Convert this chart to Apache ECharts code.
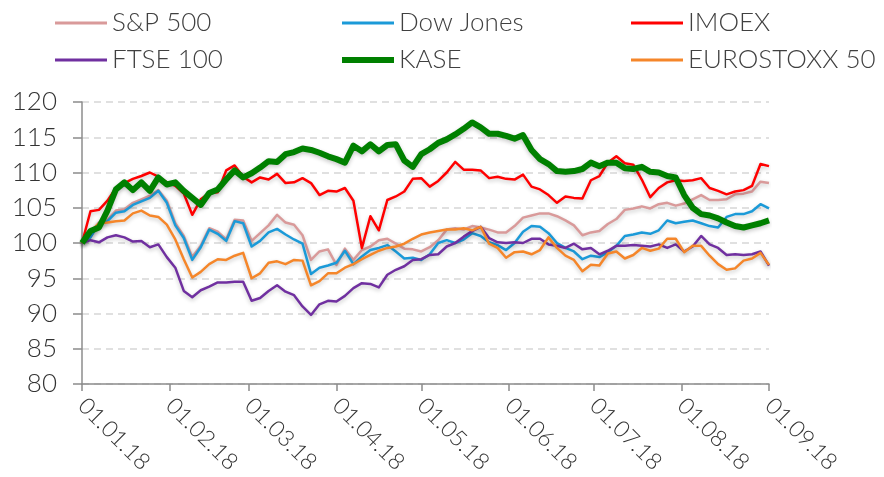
<!DOCTYPE html>
<html>
<head>
<meta charset="utf-8">
<script src="https://cdn.jsdelivr.net/npm/echarts@6/dist/echarts.min.js"></script>
<style>html,body{margin:0;padding:0;background:#fff;}#c{width:884px;height:477px;}</style>
</head>
<body>
<div id="c"></div>
<script>
var dates = [
'2018-01-01','2018-01-04','2018-01-07','2018-01-10','2018-01-13','2018-01-16','2018-01-19','2018-01-22','2018-01-25','2018-01-28','2018-01-31',
'2018-02-03','2018-02-06','2018-02-09','2018-02-12','2018-02-15','2018-02-18','2018-02-21','2018-02-24','2018-02-27',
'2018-03-02','2018-03-05','2018-03-08','2018-03-11','2018-03-14','2018-03-17','2018-03-20','2018-03-23','2018-03-26','2018-03-29',
'2018-04-01','2018-04-04','2018-04-07','2018-04-10','2018-04-13','2018-04-16','2018-04-19','2018-04-22','2018-04-25','2018-04-28',
'2018-05-01','2018-05-04','2018-05-07','2018-05-10','2018-05-13','2018-05-16','2018-05-19','2018-05-22','2018-05-25','2018-05-28','2018-05-31',
'2018-06-03','2018-06-06','2018-06-09','2018-06-12','2018-06-15','2018-06-18','2018-06-21','2018-06-24','2018-06-27','2018-06-30',
'2018-07-03','2018-07-06','2018-07-09','2018-07-12','2018-07-15','2018-07-18','2018-07-21','2018-07-24','2018-07-27','2018-07-30',
'2018-08-02','2018-08-05','2018-08-08','2018-08-11','2018-08-14','2018-08-17','2018-08-20','2018-08-23','2018-08-26','2018-08-29',
'2018-09-01'
];

var sp500 = [100,100.9,102.9,103.3,104.6,104.8,105.7,106.2,106.7,107.5,106.0,
102.8,101.0,98.0,99.6,102.1,101.6,100.5,103.3,103.2,
100.3,101.4,102.5,104.0,102.9,102.6,101.1,97.6,98.8,99.1,
96.9,99.2,97.6,99.0,99.5,100.4,100.6,99.9,99.2,99.1,
98.8,99.4,100.4,101.9,102.1,101.9,102.4,102.2,101.9,101.5,101.5,
102.4,103.6,103.9,104.2,104.2,103.8,103.2,102.5,101.1,101.5,
101.7,102.7,103.4,104.7,104.9,105.2,104.9,105.5,105.7,105.3,
105.6,106.2,106.8,106.1,106.1,106.2,106.9,107.0,107.3,108.7,
108.5];

var dowJones = [100,100.8,102.8,103.1,104.3,104.5,105.4,105.9,106.4,107.4,105.7,
102.5,100.7,97.6,99.4,101.9,101.3,100.3,103.1,102.8,
99.5,100.3,101.5,102.0,101.2,100.5,99.9,95.6,96.5,96.8,
97.2,98.9,97.0,98.1,99.0,99.3,99.7,98.8,97.8,97.9,
97.6,98.4,100.0,100.4,100.0,100.5,101.4,101.0,100.1,99.7,99.0,
100.0,101.6,102.4,102.3,101.4,100.0,99.3,98.8,97.7,98.2,
98.0,98.7,99.6,101.0,101.2,101.5,101.3,101.8,103.2,102.8,
103.0,103.2,102.8,102.4,102.2,103.7,104.1,104.1,104.5,105.5,
104.9];

var imoex = [100,104.5,104.7,106.0,107.8,108.5,109.1,109.5,110.0,109.4,108.6,
108.1,107.0,104.0,106.2,107.1,107.2,110.3,111.0,109.4,
108.6,109.3,109.0,109.8,108.5,108.6,109.2,108.5,106.8,107.4,
107.3,107.8,106.0,99.3,103.8,101.8,106.1,106.6,107.3,109.1,
109.2,108.0,108.8,110.0,111.5,110.4,110.4,110.3,109.2,109.4,109.1,
109.0,109.7,108.0,107.6,106.8,105.7,106.6,106.4,106.3,108.9,
109.5,111.4,112.3,111.3,111.1,109.0,106.5,107.8,108.6,108.9,
108.8,108.9,109.2,107.8,107.4,106.9,107.3,107.5,108.1,111.2,
110.9];

var ftse100 = [100,100.4,100.1,100.8,101.1,100.8,100.2,100.3,99.4,99.8,98.0,
96.5,93.2,92.3,93.3,93.8,94.4,94.4,94.5,94.5,
91.8,92.2,93.2,94.0,93.1,92.6,91.0,89.8,91.3,91.8,
91.7,92.5,93.6,94.3,94.2,93.7,95.5,96.2,96.7,97.6,
97.7,98.3,98.4,99.5,100.0,100.9,101.7,102.3,100.7,100.1,100.0,
100.1,100.0,100.6,100.6,99.8,99.6,99.3,99.9,99.1,99.3,
98.4,98.9,99.6,99.6,99.7,99.6,99.5,99.8,99.3,99.8,
98.8,99.5,101.0,99.8,99.3,98.3,98.4,98.3,98.4,98.8,
96.8];

var kase = [100,101.7,102.2,104.6,107.6,108.6,107.5,108.6,107.4,109.3,108.3,
108.6,107.4,106.4,105.4,107.1,107.6,109.0,110.3,109.3,
109.9,110.7,111.6,111.5,112.6,112.9,113.4,113.2,112.8,112.3,
111.9,111.4,113.8,113.0,114.0,113.0,113.9,114.0,111.7,110.8,
112.6,113.3,114.2,114.7,115.4,116.2,117.1,116.4,115.5,115.5,115.2,
114.8,115.3,113.2,111.9,111.2,110.2,110.1,110.2,110.5,111.4,
110.9,111.4,111.4,110.6,110.5,110.8,110.1,110.0,109.5,109.3,
106.8,105.0,104.1,103.9,103.5,102.9,102.4,102.2,102.5,102.8,
103.2];

var eurostoxx50 = [100,101.6,102.8,102.9,103.1,103.2,104.2,104.6,103.9,103.7,102.6,
100.5,97.7,95.1,95.9,97.0,97.7,97.6,98.2,98.6,
95.0,95.7,97.2,97.4,97.0,97.6,97.5,94.0,94.6,95.7,
95.7,96.5,97.0,97.7,98.3,98.9,99.3,99.5,99.9,100.6,
101.2,101.5,101.7,101.9,101.9,102.1,101.8,102.3,99.9,99.3,97.9,
98.7,98.8,98.4,99.0,100.8,99.3,98.2,97.6,96.0,96.9,
96.8,98.5,98.8,97.8,98.3,99.3,98.9,99.2,100.6,100.6,
98.7,99.6,99.6,98.2,97.0,96.2,96.4,97.5,97.8,98.6,
96.9];

var seriesNames = ['S&P 500','Dow Jones','IMOEX','FTSE 100','KASE','EUROSTOXX 50'];
var seriesValues = [sp500, dowJones, imoex, ftse100, kase, eurostoxx50];
var seriesColors = ['#d99a9a','#1b9ad8','#ff0000','#7030a0','#008000','#f5862a'];
var seriesWidths = [2.5,2.5,2.5,2.5,6,2.5];
var yTicks = {min:80, max:120, interval:5};

var FONT = 'Lato';
var legendPos = [
  {left:50, top:5},{left:337, top:5},{left:626, top:5},
  {left:50, top:42},{left:337, top:42},{left:626, top:42}
];

var legends = seriesNames.map(function(n,i){
  return {
    data:[{name:n, icon:'rect'}],
    left: legendPos[i].left, top: legendPos[i].top,
    itemWidth: 52, itemHeight: seriesWidths[i] > 3 ? 6 : 3,
    itemGap: 0,
    selectedMode: false,
    textStyle:{fontFamily:FONT, fontSize:26, fontWeight:300, color:'#404040'}
  };
});

var series = seriesNames.map(function(n,i){
  return {
    name:n, type:'line', showSymbol:false, symbol:'none',
    data: dates.map(function(d,j){ return [d, seriesValues[i][j]]; }),
    itemStyle:{color:seriesColors[i]},
    lineStyle:{color:seriesColors[i], width:seriesWidths[i], join:'round',
      shadowColor:'rgba(0,0,0,0.22)', shadowBlur:4, shadowOffsetY:2},
    z: i===4 ? 3 : 2
  };
});

function pad(x){ return (x<10?'0':'')+x; }

var chart = echarts.init(document.getElementById('c'), null, {renderer:'canvas'});
chart.setOption({
  animation:false,
  backgroundColor:'#fff',
  legend: legends,
  grid:{left:82, right:115, top:102, bottom:93, containLabel:false},
  xAxis:{
    type:'time',
    min:'2018-01-01', max:'2018-09-01',
    minInterval: 28*24*3600*1000,
    maxInterval: 31*24*3600*1000,
    splitLine:{show:false},
    axisLine:{lineStyle:{color:'#8c8c8c', width:1.5}},
    axisTick:{show:true, length:7, lineStyle:{color:'#8c8c8c', width:1.5}},
    axisLabel:{
      rotate:-45, margin:18, hideOverlap:false, showMinLabel:true, showMaxLabel:true,
      fontFamily:FONT, fontSize:23, fontWeight:300, color:'#333',
      formatter:function(v){ var d=new Date(v); return pad(d.getDate())+'.'+pad(d.getMonth()+1)+'.'+String(d.getFullYear()).slice(2); }
    }
  },
  yAxis:{
    type:'value', min:yTicks.min, max:yTicks.max, interval:yTicks.interval,
    axisLine:{show:true, lineStyle:{color:'#8c8c8c', width:1.5}},
    axisTick:{show:true, length:9, lineStyle:{color:'#8c8c8c', width:1.5}},
    splitLine:{show:true, lineStyle:{color:'#d6d6d6', width:1.5, type:[7,5]}},
    axisLabel:{fontFamily:FONT, fontSize:26, fontWeight:300, color:'#333', margin:25}
  },
  series: series
});
</script>
</body>
</html>
